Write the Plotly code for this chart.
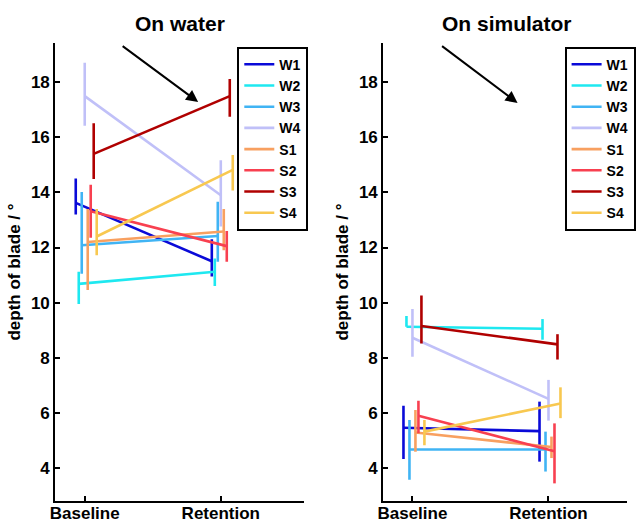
import plotly.graph_objects as go

# ---------------- data ----------------
series = ["W1", "W2", "W3", "W4", "S1", "S2", "S3", "S4"]
colors = ["#0a0ad8", "#1ee8f0", "#40b4f4", "#c0c0f8", "#f8a060", "#f84050", "#b00000", "#f8c850"]
sessions = ["Baseline", "Retention"]

# On water: [baseline, retention]
water_mean = [[13.62, 11.5], [10.68, 11.12], [12.08, 12.42], [17.5, 13.9],
              [12.2, 12.58], [13.32, 12.05], [15.4, 17.5], [12.4, 14.82]]
water_hi = [[14.51, 12.3], [11.12, 11.6], [14.02, 13.66], [18.71, 15.17],
            [13.4, 13.4], [14.28, 12.6], [16.51, 18.12], [13.4, 15.36]]
water_lo = [[13.2, 10.95], [9.95, 10.6], [11.05, 11.48], [16.42, 12.76],
            [10.46, 11.9], [12.35, 11.48], [14.49, 16.75], [11.72, 14.07]]

# On simulator: [baseline, retention]
sim_mean = [[5.45, 5.33], [9.12, 9.05], [4.66, 4.66], [8.72, 6.5],
            [5.28, 4.75], [5.89, 4.6], [9.15, 8.48], [5.31, 6.33]]
sim_hi = [[6.25, 6.4], [9.51, 9.4], [5.73, 5.31], [9.77, 7.19],
          [6.1, 5.13], [6.43, 5.61], [10.26, 8.85], [5.73, 6.92]]
sim_lo = [[4.32, 4.22], [9.12, 8.65], [3.56, 3.86], [8.03, 5.71],
          [4.58, 4.35], [5.25, 3.43], [8.51, 7.93], [4.82, 5.8]]

FONT = "Liberation Sans, Arial, sans-serif"
fig = go.Figure()

def add_panel(means, his, los, xa, ya, leg):
    for i, name in enumerate(series):
        off = (i - 3) * 0.022
        xs = [1 + off, 2 + off]
        m = means[i]
        plus = [his[i][k] - m[k] for k in range(2)]
        minus = [m[k] - los[i][k] for k in range(2)]
        fig.add_trace(go.Scatter(
            x=xs, y=m, mode="lines", name=name,
            line=dict(color=colors[i], width=2.6),
            error_y=dict(type="data", symmetric=False, array=plus, arrayminus=minus,
                         color=colors[i], thickness=2.6, width=0),
            xaxis=xa, yaxis=ya, legend=leg, showlegend=True,
        ))

add_panel(water_mean, water_hi, water_lo, "x", "y", "legend")
add_panel(sim_mean, sim_hi, sim_lo, "x2", "y2", "legend2")

W, H = 636, 524
ax_common = dict(
    showline=True, linecolor="black", linewidth=2, ticks="inside", ticklen=5,
    tickwidth=1.5, tickcolor="black", showgrid=False, zeroline=False,
    tickfont=dict(family=FONT, size=17, color="black", weight="bold"),
    automargin=False,
)
xcommon = dict(ax_common, tickvals=[1, 2], ticktext=sessions, ticklabelstandoff=-4)
ycommon = dict(ax_common, tickvals=[4, 6, 8, 10, 12, 14, 16, 18], range=[2.79, 19.43],
               title=dict(text="depth of blade / °", standoff=6,
                          font=dict(family=FONT, size=17, color="black", weight="bold")))

legfont = dict(family=FONT, size=14, color="black", weight="bold")
ydom = [23 / H, 481 / H]
fig.update_layout(
    width=W, height=H, margin=dict(l=0, r=0, t=0, b=0),
    paper_bgcolor="white", plot_bgcolor="white",
    xaxis=dict(xcommon, domain=[56 / W, 308 / W], range=[0.783, 2.609], anchor="y"),
    yaxis=dict(ycommon, domain=ydom, anchor="x"),
    xaxis2=dict(xcommon, domain=[388.7 / W, 1.0], range=[0.785, 2.577], anchor="y2"),
    yaxis2=dict(ycommon, domain=ydom, anchor="x2"),
    legend=dict(x=240.7 / W, y=1 - 46.7 / H, xanchor="left", yanchor="top",
                bordercolor="black", borderwidth=2, bgcolor="white",
                font=legfont, tracegroupgap=0),
    legend2=dict(x=572.7 / W, y=1 - 46.7 / H, xanchor="left", yanchor="top",
                 bordercolor="black", borderwidth=2, bgcolor="white",
                 font=legfont, tracegroupgap=0),
    annotations=[
        dict(text="On water", x=183 / W, y=1 - 24 / H, xref="paper", yref="paper",
             xanchor="center", yanchor="middle", showarrow=False,
             font=dict(family=FONT, size=21, color="black", weight="bold")),
        dict(text="On simulator", x=514 / W, y=1 - 24 / H, xref="paper", yref="paper",
             xanchor="center", yanchor="middle", showarrow=False,
             font=dict(family=FONT, size=21, color="black", weight="bold")),
        dict(text="", x=201 / W, y=1 - 102 / H, xref="paper", yref="paper",
             showarrow=True, ax=-77, ay=-57, arrowhead=2, arrowsize=1.2, arrowwidth=2,
             arrowcolor="black"),
        dict(text="", x=525 / W, y=1 - 103 / H, xref="paper", yref="paper",
             showarrow=True, ax=-77, ay=-58, arrowhead=2, arrowsize=1.2, arrowwidth=2,
             arrowcolor="black"),
    ],
)

fig.write_html("out.html", config={"displayModeBar": False},
               post_script="document.body.style.margin='0';document.body.style.overflow='hidden';")
